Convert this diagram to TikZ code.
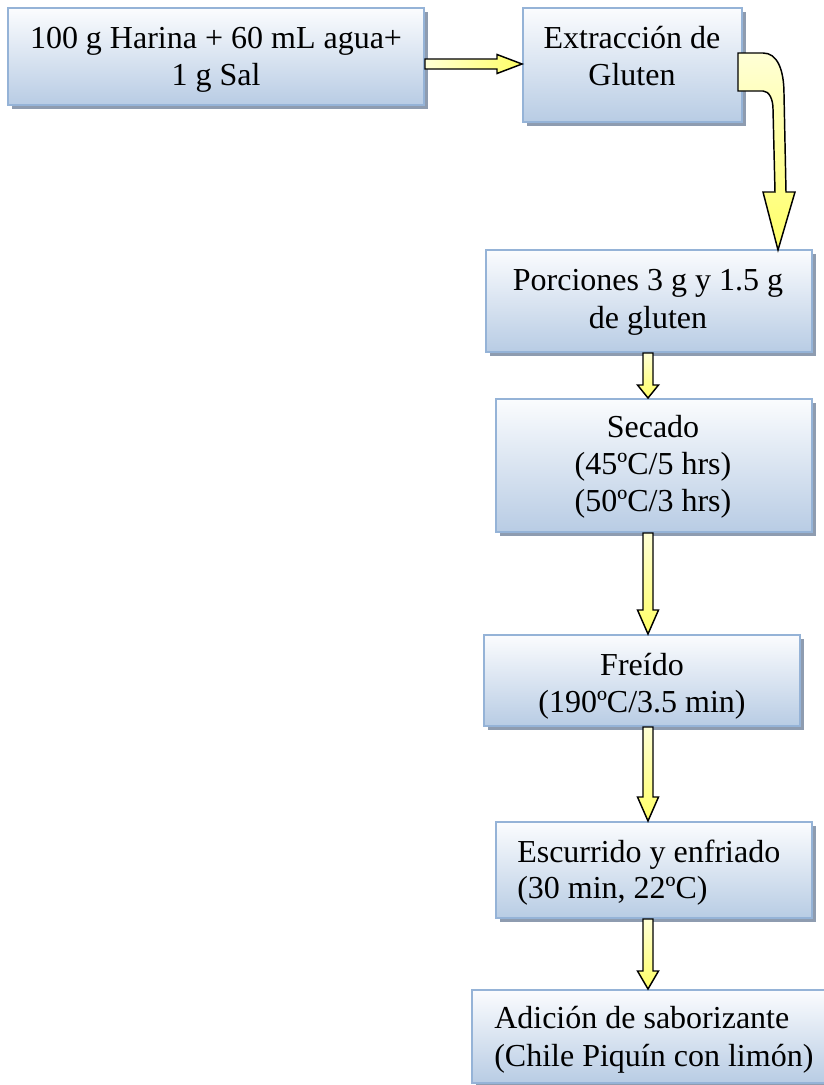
\documentclass[tikz,border=0pt]{standalone}
\usepackage{fontspec}
\setmainfont{Liberation Serif}
\usetikzlibrary{calc,fit,shadows}

\definecolor{boxtop}{RGB}{251,252,254}
\definecolor{boxbot}{RGB}{184,204,228}
\definecolor{boxline}{RGB}{149,179,215}
\definecolor{shadowc}{RGB}{142,156,176}
\definecolor{ypale}{RGB}{255,255,214}
\definecolor{ystrong}{RGB}{255,255,102}

\tikzset{
  stepbox/.style={draw=boxline, line width=1.5pt, top color=boxtop, bottom color=boxbot,
    inner sep=0pt,
    drop shadow={shadow xshift=3pt, shadow yshift=-3pt, opacity=1, fill=shadowc}},
  lbl/.style={inner sep=0pt, anchor=base, font=\fontsize{24}{27.75}\selectfont},
  lbll/.style={lbl, anchor=base west},
  yarrow/.style={draw=black, line width=1.1pt, line join=miter},
  ydown/.style={yarrow, top color=ypale, bottom color=ystrong},
  yright/.style={yarrow, left color=ypale, right color=ystrong},
}

% vertical block arrow along the column (col): from node #1 down to node #2, head length #3
\newcommand\blockdown[3]{%
  \draw[ydown] ($(col |- #1.south)+(-5,0)$) -- ($(col |- #2.north)+(-5,-#3)$)
    -- ($(col |- #2.north)+(-10.5,-#3)$) -- (col |- #2.north)
    -- ($(col |- #2.north)+(10.5,-#3)$) -- ($(col |- #2.north)+(5,-#3)$)
    -- ($(col |- #1.south)+(5,0)$) -- cycle;}

\begin{document}
\begin{tikzpicture}[x=0.75pt,y=-0.75pt]
\useasboundingbox (0,0) rectangle (824,1085);
\clip (0,0) rectangle (824,1085);

% process boxes
\node[stepbox, fit={(8,8) (424,105)}] (b1) {};
\node[stepbox, fit={(523,8) (742,122)}] (b2) {};
\node[stepbox, fit={(486,250) (812,352)}] (b3) {};
\node[stepbox, fit={(496,399) (812,532)}] (b4) {};
\node[stepbox, fit={(484,635) (800,726)}] (b5) {};
\node[stepbox, fit={(496,822) (812,918)}] (b6) {};
\node[stepbox, fit={(472,990) (845,1083)}] (b7) {};

% labels
\node[lbl] (t1a) at (216,48) {100 g Harina + 60 mL agua+};
\node[lbl] (t1b) at (216,85) {1 g Sal};
\node[lbl] (t2a) at (632,48) {Extracción de};
\node[lbl] (t2b) at (632,85) {Gluten};
\node[lbl] (t3a) at (648,290) {Porciones 3 g y 1.5 g};
\node[lbl] (t3b) at (648,328) {de gluten};
\node[lbl] (t4a) at (653,437) {Secado};
\node[lbl] (t4b) at (653,474) {(45ºC/5 hrs)};
\node[lbl] (t4c) at (653,511) {(50ºC/3 hrs)};
\node[lbl] (t5a) at (642,675) {Freído};
\node[lbl] (t5b) at (642,712) {(190ºC/3.5 min)};
\node[lbll] (t6a) at (517,862) {Escurrido y enfriado};
\node[lbll] (t6b) at (517,898) {(30 min, 22ºC)};
\node[lbll] (t7a) at (494,1028) {Adición de saborizante};
\node[lbll] (t7b) at (494,1066) {(Chile Piquín con limón)};

% horizontal block arrow b1 -> b2
\coordinate (hs) at ($(b1.east)+(0,7.5)$);
\coordinate (ht) at (hs -| b2.west);
\draw[yright] ($(hs)+(0,-5)$) -- ($(ht)+(-25,-5)$) -- ($(ht)+(-25,-9.5)$) -- (ht)
  -- ($(ht)+(-25,9.5)$) -- ($(ht)+(-25,5)$) -- ($(hs)+(0,5)$) -- cycle;

% bent block arrow b2 -> b3
\begin{scope}[shift={(b2.north east)}]
\draw[ydown] (-5,46) -- (20,46) .. controls (34,46) and (41,62) .. (41,87)
  -- (43,185) -- (52,185) -- (35,243) -- (20,185) -- (32,185) -- (30,102)
  .. controls (30,92) and (26,84) .. (20,84) -- (-5,84) -- cycle;
\end{scope}

% vertical block arrows down the column
\coordinate (col) at (648,0);
\blockdown{b3}{b4}{13}
\blockdown{b4}{b5}{24}
\blockdown{b5}{b6}{24}
\blockdown{b6}{b7}{18}
\end{tikzpicture}
\end{document}
